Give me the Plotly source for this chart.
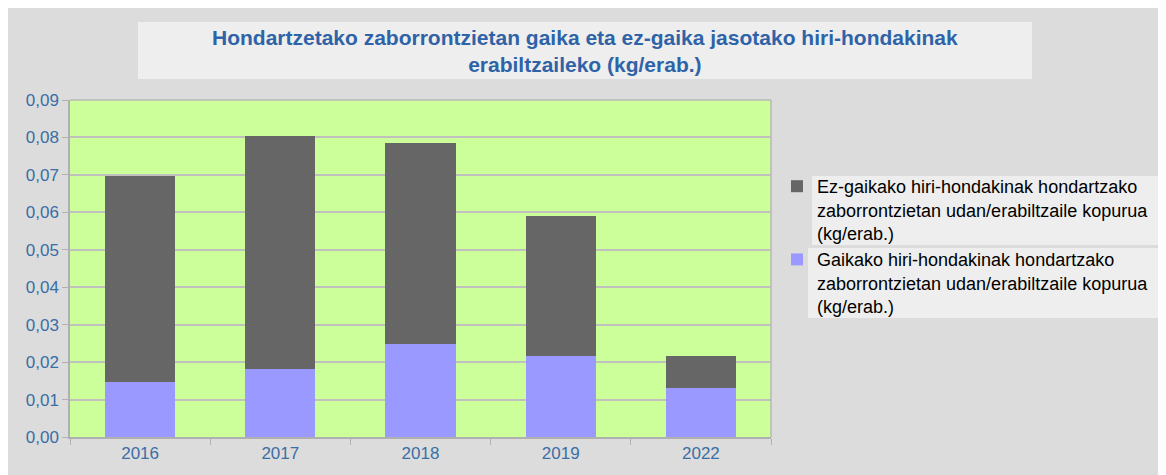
import plotly.graph_objects as go

years = ["2016", "2017", "2018", "2019", "2022"]
gaika = [0.0147, 0.0182, 0.0248, 0.0216, 0.0131]
ez_gaika = [0.0550, 0.0622, 0.0537, 0.0374, 0.0085]

name_ez = "Ez-gaikako hiri-hondakinak hondartzako<br>zaborrontzietan udan/erabiltzaile kopurua<br>(kg/erab.)"
name_g = "Gaikako hiri-hondakinak hondartzako<br>zaborrontzietan udan/erabiltzaile kopurua<br>(kg/erab.)"
title = "<b>Hondartzetako zaborrontzietan gaika eta ez-gaika jasotako hiri-hondakinak<br>erabiltzaileko (kg/erab.)</b>"

W, H = 1158, 467
L, R, T, B = 62, 395, 92, 38
PW, PH = W - L - R, H - T - B


def px(x):
    return (x - L) / PW


def py(y):
    return 1 - (y - T) / PH


fig = go.Figure()
fig.add_trace(go.Bar(x=years, y=gaika, name=name_g, marker=dict(color="#9999ff", line=dict(width=0)), width=0.5))
fig.add_trace(go.Bar(x=years, y=ez_gaika, name=name_ez, marker=dict(color="#666666", line=dict(width=0)), width=0.5))

blue = "#3a6ea5"
fig.update_layout(
    width=W, height=H,
    barmode="stack",
    separators=",.",
    font=dict(family="Liberation Sans, Arial, sans-serif", size=17, color=blue),
    paper_bgcolor="#dcdcdc",
    plot_bgcolor="#ccff99",
    margin=dict(l=L, r=R, t=T, b=B, autoexpand=False),
    showlegend=True,
    legend=dict(
        x=px(769), y=py(160), xanchor="left", yanchor="top",
        traceorder="reversed",
        bgcolor="rgba(0,0,0,0)",
        font=dict(size=18, color="#000000"),
        valign="top",
        tracegroupgap=0,
    ),
    annotations=[dict(
        text=title, xref="paper", yref="paper",
        x=px((130 + 1024) / 2), y=py(43), xanchor="center", yanchor="middle",
        showarrow=False, align="center",
        font=dict(size=21, color="#2f63a8", family="Liberation Sans, Arial, sans-serif"),
    )],
    shapes=[
        dict(type="rect", xref="paper", yref="paper", x0=px(130), x1=px(1024), y0=py(14), y1=py(71),
             fillcolor="#eeeeee", line=dict(width=0), layer="below"),
        dict(type="rect", xref="paper", yref="paper", x0=px(804), x1=px(1160), y0=py(168), y1=py(237),
             fillcolor="#eeeeee", line=dict(width=0), layer="below"),
        dict(type="rect", xref="paper", yref="paper", x0=px(800), x1=px(1160), y0=py(240), y1=py(310),
             fillcolor="#eeeeee", line=dict(width=0), layer="below"),
        dict(type="line", xref="paper", yref="paper", x0=1, x1=1, y0=0, y1=1,
             line=dict(color="#b8b8b8", width=1.5)),
        dict(type="line", xref="paper", yref="paper", x0=0, x1=1, y0=1, y1=1,
             line=dict(color="#b8b8b8", width=1.5)),
    ],
)
fig.update_yaxes(
    range=[0, 0.09], dtick=0.01, tickformat=".2f",
    showgrid=True, gridcolor="#c0c0c0", gridwidth=1.5,
    showline=True, linecolor="#b0b0b0", linewidth=1.5,
    ticks="outside", ticklen=6, tickcolor="#b0b0b0",
    zeroline=False, tickfont=dict(size=17, color=blue),
)
fig.update_xaxes(
    showline=True, linecolor="#b0b0b0", linewidth=1.5,
    ticks="outside", tickson="boundaries", ticklen=6, tickcolor="#b0b0b0",
    showgrid=False, tickfont=dict(size=17, color=blue),
)

fig.write_html("out.html")
